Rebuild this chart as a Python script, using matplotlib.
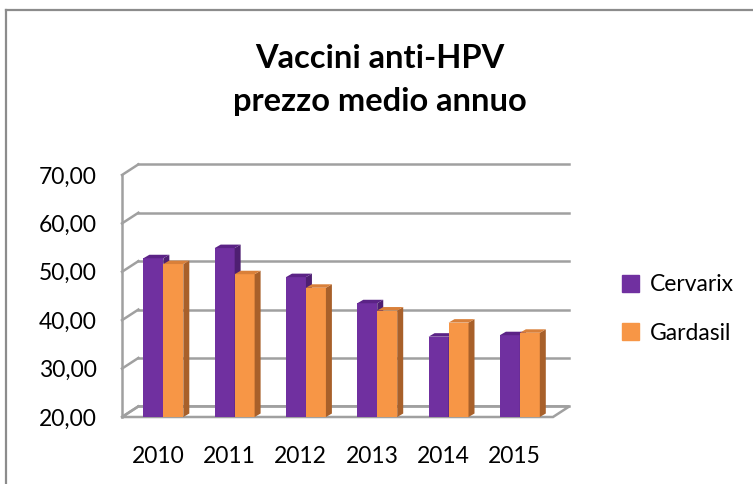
import matplotlib
matplotlib.use("Agg")
import matplotlib.pyplot as plt
from matplotlib.patches import Polygon
from matplotlib.lines import Line2D

plt.rcParams['font.family'] = ['Lato', 'DejaVu Sans']

years = ['2010', '2011', '2012', '2013', '2014', '2015']
cervarix = [52.8, 54.9, 48.9, 43.5, 36.6, 36.9]
gardasil = [51.6, 49.5, 46.7, 42.0, 39.5, 37.4]
y_ticks = [20, 30, 40, 50, 60, 70]

purple = ['#7030A0', '#4E1F72', '#5B2386']   # front, side, top
orange = ['#F79646', '#A8602A', '#D9803A']

W, H = 753, 484
fig = plt.figure(figsize=(W / 100, H / 100), dpi=100)
ax = fig.add_axes([122 / W, 1 - 417 / H, 431 / W, 242 / H])
x0, x1 = -0.505, 5.54
ax.set_xlim(x0, x1)
ax.set_ylim(20, 70)
for s in ax.spines.values():
    s.set_visible(False)

# wall / floor depth offset (in data units)
ddx, ddy = 0.23, 2.2
grid = '#A0A0A0'

# floor
ax.add_patch(Polygon([(x0, 20), (x1, 20), (x1 + ddx, 20 + ddy), (x0 + ddx, 20 + ddy)],
                     closed=True, facecolor='white', edgecolor=grid, lw=1.8,
                     clip_on=False, zorder=1))
# back wall gridlines and left wall
for v in y_ticks:
    ax.plot([x0 + ddx, x1 + ddx], [v + ddy, v + ddy], color=grid, lw=1.8,
            clip_on=False, zorder=1)
    ax.plot([x0, x0 + ddx], [v, v + ddy], color=grid, lw=1.8, clip_on=False, zorder=1)
ax.plot([x0, x0], [20, 70], color=grid, lw=1.8, clip_on=False, zorder=1)

# bars with simple 3D faces
bw = 0.28
shift = 0.075
bdx, bdy = 0.084, 0.72


def draw_series(xs, vals, cols):
    ax.bar(xs, [v - 20 for v in vals], bottom=20, width=bw, color=cols[0],
           zorder=3, clip_on=False)
    for x, v in zip(xs, vals):
        r = x + bw / 2
        l = x - bw / 2
        ax.add_patch(Polygon([(r, 20), (r + bdx, 20 + bdy), (r + bdx, v + bdy), (r, v)],
                             closed=True, facecolor=cols[1], lw=0, zorder=3, clip_on=False))
        ax.add_patch(Polygon([(l, v), (r, v), (r + bdx, v + bdy), (l + bdx, v + bdy)],
                             closed=True, facecolor=cols[2], lw=0, zorder=3, clip_on=False))


idx = list(range(len(years)))
draw_series([i + shift - bw / 2 for i in idx], cervarix, purple)
draw_series([i + shift + bw / 2 for i in idx], gardasil, orange)

ax.set_yticks(y_ticks)
ax.set_yticklabels([f'{v:.2f}'.replace('.', ',') for v in y_ticks], fontsize=16.5)
ax.set_xticks(idx)
ax.set_xticklabels(years, fontsize=16.5)
ax.tick_params(axis='y', length=0, pad=18)
ax.tick_params(axis='x', length=0, pad=21)

fig.text(380 / W, 1 - 80 / H, 'Vaccini anti-HPV\nprezzo medio annuo', ha='center',
         va='center', fontsize=23.5, fontweight='bold', linespacing=1.55)

handles = [plt.Rectangle((0, 0), 1, 1, color=purple[0]),
           plt.Rectangle((0, 0), 1, 1, color=orange[0])]
fig.legend(handles, ['Cervarix', 'Gardasil'], loc='center left',
           bbox_to_anchor=(622 / W, 1 - 309 / H), frameon=False, fontsize=16.5,
           handlelength=0.75, handleheight=0.75, handletextpad=0.45,
           labelspacing=1.2, borderpad=0, borderaxespad=0)

# outer chart frame (cut by the image edges)
fc = '#8C8C8C'
fig.add_artist(Line2D([5.5 / W, 1], [1 - 10 / H, 1 - 10 / H], color=fc, lw=1.6))
fig.add_artist(Line2D([5.5 / W, 5.5 / W], [0, 1 - 10 / H], color=fc, lw=1.6))

fig.savefig('out.png', dpi=100)
